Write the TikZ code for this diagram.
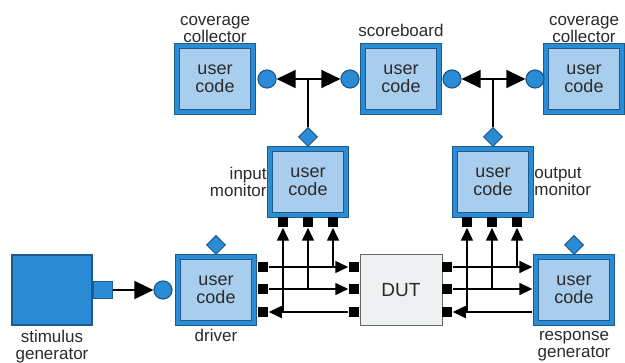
\documentclass[tikz,border=0pt]{standalone}
\usepackage{fontspec}
\setmainfont{Liberation Sans}
\usetikzlibrary{arrows.meta,shapes.geometric,positioning}

\definecolor{azulesc}{HTML}{1E5A8C}
\definecolor{azul}{HTML}{2B8CD6}
\definecolor{azulclaro}{HTML}{A9CDEC}
\definecolor{cinza}{HTML}{EEF1F1}
\definecolor{texto}{HTML}{2A2A2A}

\tikzset{
  bloco/.style={draw=azulesc, line width=1.3pt, double=azul, double distance=3.2pt,
    fill=azulclaro, minimum width=76pt, minimum height=66pt, inner sep=0pt,
    align=center, text=texto, font=\fontsize{18}{18}\selectfont},
  dutbox/.style={draw=black!60, line width=1pt, fill=cinza, minimum width=82pt,
    minimum height=71pt, text=texto, font=\fontsize{19}{19}\selectfont},
  rotulo/.style={align=center, inner sep=0pt, text=texto, font=\fontsize{17}{17}\selectfont},
  porta/.style={fill=black, minimum size=10pt, inner sep=0pt},
  bola/.style={circle, draw=azulesc, fill=azul, line width=1.2pt, minimum size=18pt, inner sep=0pt},
  losango/.style={diamond, draw=azulesc, fill=azul, line width=1pt, minimum size=19pt, inner sep=0pt},
  seta/.style={-{Triangle[length=13pt,width=12pt]}},
  setag/.style={-{Triangle[length=19pt,width=18pt]}},
}

\begin{document}
\begin{tikzpicture}[x=1pt,y=-1pt,line width=1.5pt]
\useasboundingbox (0,0) rectangle (625,363);
%blocos de cima
  \node[bloco] (cov1) at (215,79) {user\\code};
  \node[bloco] (score) at (401,79) {user\\code};
  \node[bloco] (cov2) at (584,79) {user\\code};
  \node[rotulo, above=2pt of cov1] {coverage\\collector};
  \node[rotulo, above=8pt of score] {scoreboard};
  \node[rotulo, above=2pt of cov2] {coverage\\collector};
  \node[bola] (b1) at (267,79) {};
  \node[bola] (b2) at (350,79) {};
  \node[bola] (b3) at (452,79) {};
  \node[bola] (b4) at (535,79) {};

%monitores
  \node[bloco] (inmon) at (308,182) {user\\code};
  \node[bloco] (outmon) at (493,182) {user\\code};
  \node[rotulo, align=right, left=2pt of inmon] {input\\monitor};
  \node[rotulo, align=left, right=2pt of outmon] {output\\monitor};
  \node[losango] (india) at (308,137) {};
  \node[losango] (outdia) at (493,137) {};
  \coordinate (j1) at (308,79);
  \coordinate (j2) at (493,79);

  \draw[setag] (j1) -- (b1);
  \draw[setag] (j1) -- (b2);
  \draw (j1) -- (india);
  \draw[setag] (j2) -- (b3);
  \draw[setag] (j2) -- (b4);
  \draw (j2) -- (outdia);

%blocos de baixo
  \node[fill=azul, draw=azulesc, line width=1.2pt, minimum width=80pt, minimum height=70pt] (stim) at (52,290) {};
  \node[fill=azul, draw=azulesc, line width=1.2pt, minimum width=19pt, minimum height=17pt, anchor=west] (stimp) at (stim.east) {};
  \node[rotulo, below=4pt of stim] {stimulus\\generator};
  \node[bola] (dcirc) at (163,290) {};
  \node[bloco] (drv) at (216,290) {user\\code};
  \node[losango] (drvdia) at (216,245) {};
  \node[rotulo, below=5pt of drv] {driver};
  \node[dutbox] (dut) at (401,290) {DUT};
  \node[bloco] (resp) at (574,290) {user\\code};
  \node[losango] (respdia) at (574,245) {};
  \node[rotulo, below=7pt of resp] {response\\generator};

%portas
  \foreach \i/\y in {1/267,2/289,3/312} {
    \node[porta] (dp\i) at (263,\y) {};
    \node[porta] (ul\i) at (354,\y) {};
    \node[porta] (ur\i) at (447,\y) {};
  }
  \foreach \i/\x in {1/283,2/308,3/333}
    \node[porta] (ip\i) at (\x,222) {};
  \foreach \i/\x in {1/467,2/492,3/517}
    \node[porta] (op\i) at (\x,222) {};

%ligacoes
  \draw[setag] (stimp) -- (dcirc);
  \draw[seta] (dp1) -- (ul1);
  \draw[seta] (dp2) -- (ul2);
  \draw[seta] (ul3) -- (dp3);
  \draw[seta] (ip1 |- dp3) -- (ip1);
  \draw[seta] (ip2 |- dp2) -- (ip2);
  \draw[seta] (ip3 |- dp1) -- (ip3);

  \draw[seta, shorten >=3pt] (ur1) -- (resp.west |- ur1);
  \draw[seta, shorten >=3pt] (ur2) -- (resp.west |- ur2);
  \draw[seta, shorten <=3pt] (resp.west |- ur3) -- (ur3);
  \draw[seta] (op1 |- ur3) -- (op1);
  \draw[seta] (op2 |- ur2) -- (op2);
  \draw[seta] (op3 |- ur1) -- (op3);
\end{tikzpicture}
\end{document}
